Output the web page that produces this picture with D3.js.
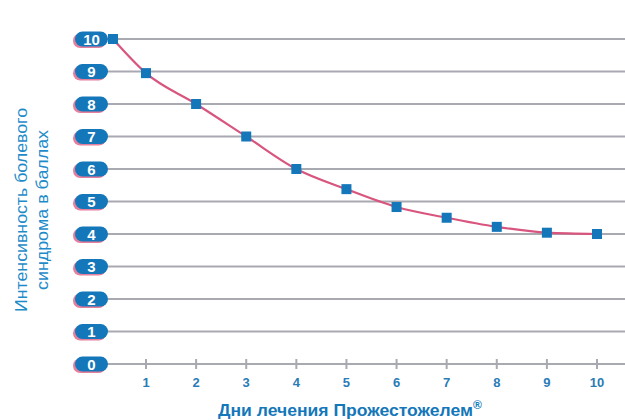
<!DOCTYPE html>
<html>
<head>
<meta charset="utf-8">
<script src="https://cdn.jsdelivr.net/npm/d3@7/dist/d3.min.js"></script>
<style>
  html, body { margin: 0; padding: 0; background: #fff; }
  svg { display: block; }
</style>
</head>
<body>
<div id="chart"></div>
<script>
// Pain intensity score over the course of treatment
const days = [0, 1, 2, 3, 4, 5, 6, 7, 8, 9, 10];
const scores = [10, 8.95, 8.0, 7.0, 6.0, 5.38, 4.83, 4.5, 4.22, 4.04, 4.0];
const dayTicks = [1, 2, 3, 4, 5, 6, 7, 8, 9, 10];
const scoreTicks = [0, 1, 2, 3, 4, 5, 6, 7, 8, 9, 10];
const yTitleLines = ["Интенсивность болевого", "синдрома в баллах"];
const xTitle = "Дни лечения Прожестожелем";

const W = 625, H = 420;
const blue = "#1477b9";
const pink = "#d8557e";
const grid = "#a9a9b1";

const svg = d3.select("#chart").append("svg")
  .attr("width", W).attr("height", H)
  .style("font-family", "'Liberation Sans', Arial, sans-serif");

// day 0 sits at the axis origin, days 1..10 are evenly spaced
const x = d3.scaleLinear().domain([0, 1, 10]).range([113, 146, 597]);
const y = d3.scaleLinear().domain([0, 10]).range([364, 39]);

// horizontal grid lines
svg.append("g").selectAll("line").data(scoreTicks).join("line")
  .attr("x1", 106).attr("x2", W)
  .attr("y1", d => y(d)).attr("y2", d => y(d))
  .attr("stroke", grid).attr("stroke-width", 2);

// x ticks on the baseline
svg.append("g").selectAll("line").data(dayTicks).join("line")
  .attr("x1", d => x(d)).attr("x2", d => x(d))
  .attr("y1", y(0) - 5).attr("y2", y(0) + 5)
  .attr("stroke", grid).attr("stroke-width", 2);

svg.append("g").selectAll("text").data(dayTicks).join("text")
  .attr("x", d => x(d)).attr("y", y(0) + 23)
  .attr("text-anchor", "middle")
  .attr("font-size", 13)
  .attr("font-weight", "bold")
  .attr("fill", "#2b7cb6")
  .text(d => d);

// pill-shaped y labels with a pink drop edge
const pills = svg.append("g").selectAll("g").data(scoreTicks).join("g")
  .attr("transform", d => `translate(91,${y(d)})`);
pills.append("rect")
  .attr("x", -18).attr("y", -5.5).attr("width", 33).attr("height", 14.5)
  .attr("rx", 7.2).attr("fill", "#e67f9c");
pills.append("rect")
  .attr("x", -16).attr("y", -7.5).attr("width", 33).attr("height", 15)
  .attr("rx", 7.5).attr("fill", blue);
pills.append("text")
  .attr("x", 0.5).attr("y", 5.5)
  .attr("text-anchor", "middle")
  .attr("font-size", 15).attr("font-weight", "bold")
  .attr("fill", "#fff")
  .text(d => d);

// score curve
const line = d3.line()
  .x((d, i) => x(days[i]))
  .y(d => y(d))
  .curve(d3.curveMonotoneX);

svg.append("path")
  .datum(scores)
  .attr("d", line)
  .attr("fill", "none")
  .attr("stroke", pink)
  .attr("stroke-width", 2.2);

svg.append("g").selectAll("rect").data(scores).join("rect")
  .attr("x", (d, i) => x(days[i]) - 5)
  .attr("y", d => y(d) - 5)
  .attr("width", 10).attr("height", 10)
  .attr("fill", blue);

// axis titles
svg.append("g").selectAll("text").data(yTitleLines).join("text")
  .attr("transform", (d, i) => `translate(${27 + i * 21},210) rotate(-90)`)
  .attr("text-anchor", "middle")
  .attr("font-size", 16)
  .attr("fill", "#1e8bc9")
  .attr("textLength", (d, i) => i === 0 ? 204 : 160)
  .attr("lengthAdjust", "spacingAndGlyphs")
  .text(d => d);

const xt = svg.append("text")
  .attr("x", 218).attr("y", 416)
  .attr("font-size", 17).attr("font-weight", "bold")
  .attr("fill", blue);
xt.append("tspan")
  .attr("textLength", 255)
  .attr("lengthAdjust", "spacingAndGlyphs")
  .text(xTitle);
xt.append("tspan").attr("font-size", 12).attr("dy", -7).text("®");
</script>
</body>
</html>
